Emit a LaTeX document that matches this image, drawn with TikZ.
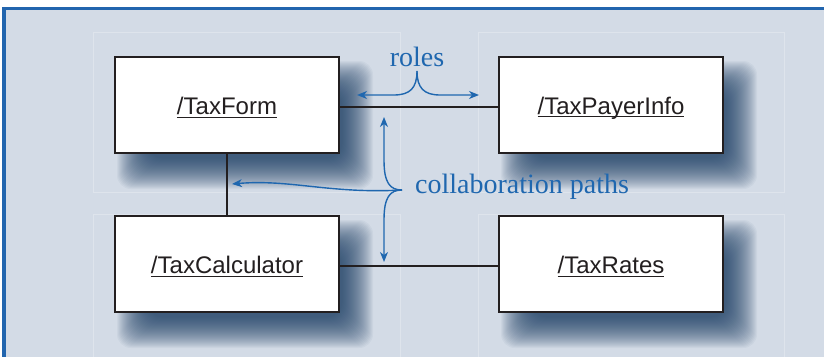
\documentclass[tikz,border=0pt]{standalone}
\usepackage{fontspec}
\setmainfont{Liberation Serif}
\newfontfamily\boxfont{Liberation Sans}
\usetikzlibrary{arrows.meta}
\definecolor{bg}{HTML}{D3DBE6}
\definecolor{frameblue}{HTML}{2265AE}
\definecolor{noteblue}{HTML}{1F67AF}
\definecolor{shadowblue}{HTML}{1B3E66}
\definecolor{ink}{HTML}{231F20}
\definecolor{panel}{HTML}{DEE4EC}
% underlined class name
\newcommand\ulname[1]{\setbox0=\hbox{#1}\rule{0pt}{23pt}\rlap{\rule[-3.2pt]{\wd0}{1.1pt}}\box0}
\begin{document}
\begin{tikzpicture}[x=1pt,y=-1pt,>={Stealth[length=10pt,width=8pt,inset=3pt]},
  classbox/.style={draw=ink,line width=1.3pt,fill=white,minimum width=224pt,minimum height=96pt,
    text=ink,font=\boxfont\fontsize{24}{28}\selectfont},
  notetext/.style={text=noteblue,inner sep=0pt,font=\fontsize{28}{32}\selectfont},
  callout/.style={noteblue,line width=1.4pt,->},
  link/.style={ink,line width=1.4pt}]
\useasboundingbox (0,0) rectangle (824,356);
\fill[white] (0,0) rectangle (824,356);
\fill[bg] (4,8.5) rectangle (830,362);
% faint panels
\foreach \px/\py/\qx/\qy in {93/32/400/192,93/214/400/370,478/32/784/192,478/214/784/370}
  \draw[panel,line width=.8pt] (\px,\py) rectangle (\qx,\qy);
\draw[frameblue,line width=3.5pt] (4,370) -- (4,8.5) -- (830,8.5);
% soft shadows
\foreach \cx/\cy in {227/105,611/105,227/264,611/264}
  \foreach \k in {0,...,31}
    \fill[shadowblue,opacity=.045,rounded corners=14pt]
      (\cx+18-112-16+\k,\cy+20-48-16+\k) rectangle (\cx+18+112+16-\k,\cy+20+48+16-\k);
\node[classbox] (form) at (227,105) {\ulname{/TaxForm}};
\node[classbox] (payer) at (611,105) {\ulname{/TaxPayerInfo}};
\node[classbox] (calc) at (227,264) {\ulname{/TaxCalculator}};
\node[classbox] (rates) at (611,264) {\ulname{/TaxRates}};
\draw[link] ([yshift=-2pt]form.east) -- ([yshift=-2pt]payer.west);
\draw[link] (form) -- (calc);
\draw[link] ([yshift=-2pt]calc.east) -- ([yshift=-2pt]rates.west);
\node[notetext] (roles) at (417,57) {roles};
\node[notetext,anchor=west] (collab) at (415,187) {collaboration paths};
\coordinate (fork) at (417,71);
\coordinate (roleA) at (357,95);
\coordinate (roleB) at (479,95);
\coordinate (hub) at (402,190);
\coordinate (tipUp) at (384,117);
\coordinate (tipLeft) at (232,184);
\coordinate (tipDown) at (384,262);
\draw[callout] (fork) .. controls (417,88) and (410,95) .. (394,95) -- (roleA);
\draw[callout] (fork) .. controls (417,88) and (424,95) .. (440,95) -- (roleB);
\draw[callout] (hub) .. controls (390,190) and (384,183) .. (384,160) -- (tipUp);
\draw[callout] (hub) .. controls (390,190) and (384,197) .. (384,220) -- (tipDown);
\draw[callout] (hub) .. controls (330,194) and (290,179) .. (tipLeft);
\end{tikzpicture}
\end{document}
